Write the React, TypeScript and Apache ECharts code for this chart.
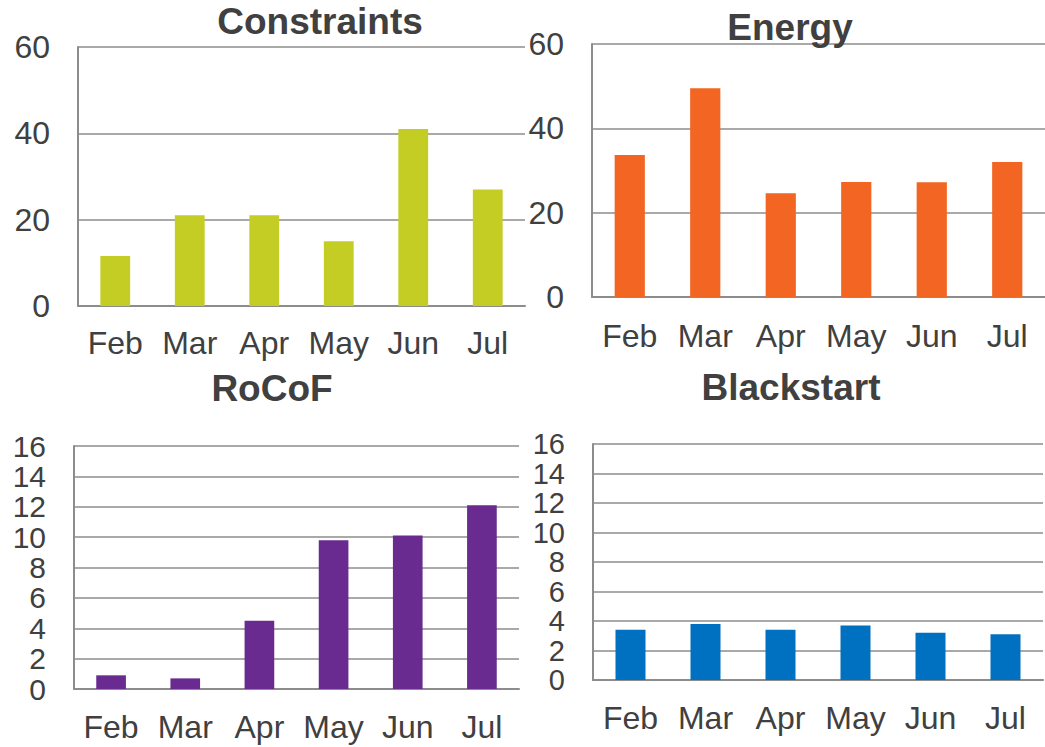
import React, { useEffect, useRef } from "react";
import * as echarts from "echarts";

const months = ["Feb", "Mar", "Apr", "May", "Jun", "Jul"];
const constraintsValues = [11.6, 21, 21, 15, 41, 27];
const energyValues = [33.7, 49.5, 24.6, 27.3, 27.2, 32];
const rocofValues = [0.9, 0.7, 4.5, 9.8, 10.1, 12.1];
const blackstartValues = [3.4, 3.8, 3.4, 3.7, 3.2, 3.1];

const titles = ["Constraints", "Energy", "RoCoF", "Blackstart"];
const seriesValues = [constraintsValues, energyValues, rocofValues, blackstartValues];
const colors = ["#C4CD24", "#F26522", "#692B90", "#0070C0"];
const yMax = [60, 60, 16, 16];
const yInterval = [20, 20, 2, 2];

const FONT = '"Liberation Sans", Arial, Helvetica, sans-serif';
const TEXT = "#404040";
const LINE = "#8c8c8c";

const grids = [
  { left: 78, top: 47, width: 447, height: 259 },
  { left: 592, top: 44, width: 453, height: 253 },
  { left: 74, top: 446, width: 445, height: 243 },
  { left: 593, top: 444, width: 450, height: 236 },
];
const titlePos = [
  { x: 320, y: 3 },
  { x: 790, y: 9 },
  { x: 272, y: 370 },
  { x: 791, y: 369 },
];
const xLabelMargin = [21, 23, 22, 22];
const yLabelSize = [32, 32, 30, 29];
const yLabelLineHeight = [34, 34, 28, 26];

export default function App() {
  const ref = useRef<HTMLDivElement>(null);
  useEffect(() => {
    if (!ref.current) return;
    const chart = echarts.init(ref.current, undefined, { renderer: "svg" });
    const option: any = {
      animation: false,
      backgroundColor: "#ffffff",
      title: titles.map((t, i) => ({
        text: t,
        left: titlePos[i].x,
        top: titlePos[i].y,
        textAlign: "center",
        padding: 0,
        textStyle: { fontFamily: FONT, fontSize: 37, fontWeight: "bold", color: TEXT },
      })),
      grid: grids.map((g) => ({ ...g, containLabel: false })),
      xAxis: grids.map((_, i) => ({
        type: "category",
        gridIndex: i,
        data: months,
        axisLine: { show: true, lineStyle: { color: LINE, width: 2 } },
        axisTick: { show: false },
        axisLabel: { fontFamily: FONT, fontSize: 32, color: TEXT, margin: xLabelMargin[i], interval: 0 },
      })),
      yAxis: grids.map((_, i) => ({
        type: "value",
        gridIndex: i,
        min: 0,
        max: yMax[i],
        interval: yInterval[i],
        axisLine: { show: true, lineStyle: { color: LINE, width: 2 } },
        axisTick: { show: false },
        splitLine: { show: true, lineStyle: { color: LINE, width: 1.5 } },
        axisLabel: {
          fontFamily: FONT,
          fontSize: yLabelSize[i],
          lineHeight: yLabelLineHeight[i],
          color: TEXT,
          margin: 28,
          showMinLabel: true,
          showMaxLabel: true,
          hideOverlap: false,
        },
      })),
      series: seriesValues.map((vals, i) => ({
        type: "bar",
        xAxisIndex: i,
        yAxisIndex: i,
        data: vals,
        barWidth: "40%",
        itemStyle: { color: colors[i] },
      })),
    };
    chart.setOption(option);
    return () => chart.dispose();
  }, []);
  return (
    <div
      ref={ref}
      style={{ position: "fixed", left: 0, top: 0, width: 1045, height: 747, background: "#fff" }}
    />
  );
}
